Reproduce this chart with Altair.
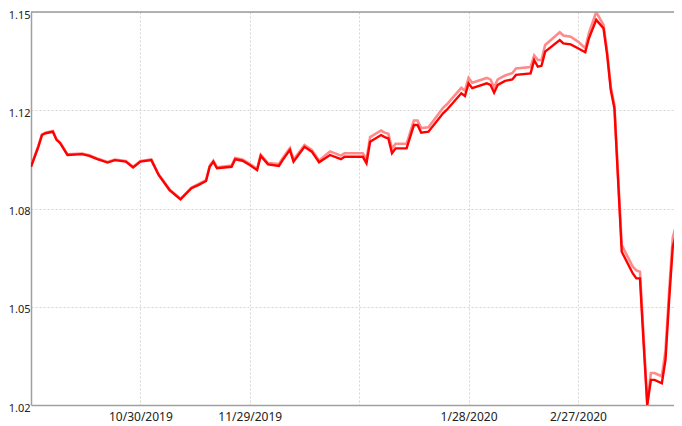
import altair as alt
import pandas as pd

dates = [
    "2019-09-30", "2019-10-01", "2019-10-02", "2019-10-03", "2019-10-04", "2019-10-06", "2019-10-07",
    "2019-10-08", "2019-10-10", "2019-10-14", "2019-10-16", "2019-10-18", "2019-10-21", "2019-10-23",
    "2019-10-26", "2019-10-28", "2019-10-30", "2019-11-02", "2019-11-04", "2019-11-07", "2019-11-10",
    "2019-11-13", "2019-11-15", "2019-11-17", "2019-11-18", "2019-11-19", "2019-11-20", "2019-11-24",
    "2019-11-25", "2019-11-27", "2019-11-29", "2019-12-01", "2019-12-02", "2019-12-04", "2019-12-07",
    "2019-12-08", "2019-12-10", "2019-12-11", "2019-12-14", "2019-12-16", "2019-12-18", "2019-12-21",
    "2019-12-24", "2019-12-25", "2019-12-30", "2019-12-31", "2020-01-01", "2020-01-04", "2020-01-05",
    "2020-01-06", "2020-01-07", "2020-01-08", "2020-01-11", "2020-01-13", "2020-01-14", "2020-01-15",
    "2020-01-17", "2020-01-21", "2020-01-22", "2020-01-26", "2020-01-27", "2020-01-28", "2020-01-29",
    "2020-02-02", "2020-02-03", "2020-02-04", "2020-02-05", "2020-02-07", "2020-02-09", "2020-02-10",
    "2020-02-14", "2020-02-15", "2020-02-16", "2020-02-17", "2020-02-18", "2020-02-22", "2020-02-23",
    "2020-02-25", "2020-02-27", "2020-02-29", "2020-03-01", "2020-03-03", "2020-03-05", "2020-03-06",
    "2020-03-07", "2020-03-08", "2020-03-09", "2020-03-10", "2020-03-13", "2020-03-14", "2020-03-15",
    "2020-03-16", "2020-03-17", "2020-03-18", "2020-03-19", "2020-03-21", "2020-03-22", "2020-03-23",
    "2020-03-24", "2020-03-25", "2020-03-26",
]

red_values = [
    1.0988, 1.1021, 1.1054, 1.1093, 1.1099, 1.1104, 1.1077,
    1.1066, 1.1027, 1.1030, 1.1024, 1.1014, 1.1002, 1.1010,
    1.1005, 1.0986, 1.1005, 1.1010, 1.0961, 1.0911, 1.0880,
    1.0917, 1.0928, 1.0941, 1.0988, 1.1005, 1.0983, 1.0988,
    1.1013, 1.1008, 1.0994, 1.0977, 1.1024, 1.0996, 1.0991,
    1.1010, 1.1044, 1.1005, 1.1054, 1.1038, 1.1003, 1.1027,
    1.1013, 1.1021, 1.1021, 1.1000, 1.1071, 1.1093, 1.1086,
    1.1082, 1.1033, 1.1049, 1.1049, 1.1126, 1.1126, 1.1101,
    1.1104, 1.1165, 1.1176, 1.1231, 1.1222, 1.1264, 1.1248,
    1.1264, 1.1259, 1.1233, 1.1259, 1.1272, 1.1277, 1.1292,
    1.1297, 1.1341, 1.1319, 1.1322, 1.1369, 1.1407, 1.1396,
    1.1393, 1.1380, 1.1367, 1.1413, 1.1474, 1.1446, 1.1358,
    1.1242, 1.1181, 1.0944, 1.0707, 1.0636, 1.0619, 1.0619,
    1.0404, 1.0200, 1.0283, 1.0283, 1.0272, 1.0349, 1.0547,
    1.0724, 1.0768, 1.0707,
]

pink_values = [
    1.0990, 1.1023, 1.1056, 1.1095, 1.1101, 1.1106, 1.1079,
    1.1068, 1.1029, 1.1032, 1.1026, 1.1016, 1.1004, 1.1012,
    1.1007, 1.0988, 1.1007, 1.1012, 1.0963, 1.0913, 1.0882,
    1.0919, 1.0931, 1.0944, 1.0991, 1.1008, 1.0986, 1.0992,
    1.1017, 1.1012, 1.0998, 1.0981, 1.1028, 1.1000, 1.0997,
    1.1016, 1.1050, 1.1011, 1.1060, 1.1044, 1.1009, 1.1039,
    1.1025, 1.1033, 1.1033, 1.1012, 1.1086, 1.1108, 1.1101,
    1.1097, 1.1048, 1.1064, 1.1064, 1.1141, 1.1141, 1.1116,
    1.1119, 1.1183, 1.1194, 1.1249, 1.1240, 1.1282, 1.1266,
    1.1282, 1.1277, 1.1251, 1.1277, 1.1290, 1.1298, 1.1313,
    1.1318, 1.1356, 1.1341, 1.1341, 1.1391, 1.1433, 1.1422,
    1.1418, 1.1402, 1.1380, 1.1430, 1.1500, 1.1457, 1.1369,
    1.1252, 1.1191, 1.0959, 1.0729, 1.0658, 1.0645, 1.0641,
    1.0426, 1.0205, 1.0306, 1.0306, 1.0295, 1.0379, 1.0577,
    1.0754, 1.0798, 1.0740,
]

x_tick_dates = ["2019-10-30", "2019-11-29", "2019-12-29", "2020-01-28", "2020-02-27"]
x_tick_labels = ["10/30/2019", "11/29/2019", "", "1/28/2020", "2/27/2020"]
y_tick_values = [1.02, 1.0525, 1.085, 1.1175, 1.15]
y_tick_labels = ["1.02", "1.05", "1.08", "1.12", "1.15"]

df = pd.DataFrame({
    "date": [d + "T00:00:00" for d in dates],
    "red": red_values,
    "pink": pink_values,
})

x_label_expr = " : ".join(
    f"timeFormat(datum.value, '%Y-%m-%d') == '{d}' ? '{l}'" for d, l in zip(x_tick_dates, x_tick_labels)
) + " : ''"
y_label_expr = " : ".join(
    f"abs(datum.value - {v}) < 0.001 ? '{l}'" for v, l in zip(y_tick_values, y_tick_labels)
) + " : ''"

x_axis = alt.Axis(
    values=[alt.DateTime(year=int(d[:4]), month=int(d[5:7]), date=int(d[8:])) for d in x_tick_dates],
    labelExpr=x_label_expr,
    title=None,
    grid=True,
    ticks=False,
    labelPadding=6,
    labelFontSize=12,
)
y_axis = alt.Axis(
    values=y_tick_values,
    labelExpr=y_label_expr,
    title=None,
    grid=True,
    ticks=False,
    labelPadding=1,
    labelOffset=3,
    labelFontSize=11,
)

x_scale = alt.Scale(
    domain=[alt.DateTime(year=2019, month=9, date=30), alt.DateTime(year=2020, month=3, date=24, hours=8)],
    nice=False,
)
x_enc = alt.X("date:T", axis=x_axis, scale=x_scale)
y_scale = alt.Scale(domain=[1.02, 1.15], nice=False, zero=False)

base = alt.Chart(df)
pink = base.mark_line(color="#ff8a8a", strokeWidth=2.6, clip=True).encode(
    x=x_enc, y=alt.Y("pink:Q", scale=y_scale, axis=y_axis)
)
red = base.mark_line(color="#ff0000", strokeWidth=2.4, clip=True).encode(
    x=x_enc, y=alt.Y("red:Q", scale=y_scale, axis=y_axis)
)
top = alt.Chart(pd.DataFrame({"v": [1.15]})).mark_rule(color="#9a9a9a", strokeWidth=1.5).encode(
    y=alt.Y("v:Q", scale=y_scale, axis=y_axis)
)

chart = alt.layer(pink, red, top).properties(
    width=643,
    height=393,
    autosize=alt.AutoSizeParams(type="none"),
    padding={"left": 23, "top": 4, "right": 0, "bottom": 20},
).configure_view(stroke=None).configure_axis(
    domainColor="#a0a0a0",
    domainWidth=1.5,
    gridColor="#d4d4d4",
    gridDash=[2, 2],
    gridWidth=1,
    labelFont="Noto Sans",
    labelColor="#222222",
)

chart.save("out.html", embed_options={"renderer": "svg", "actions": False})
